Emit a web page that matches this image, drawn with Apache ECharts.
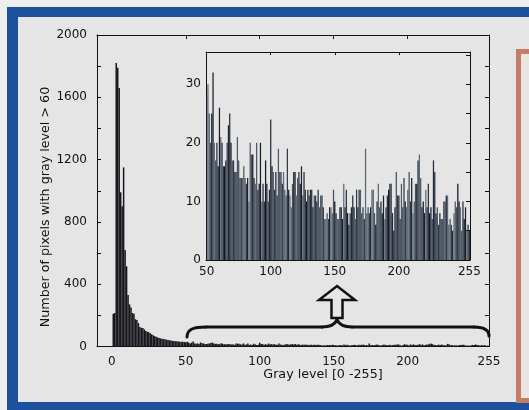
<!DOCTYPE html>
<html lang="en">
<head>
<meta charset="utf-8">
<title>Gray level histogram</title>
<script src="https://cdn.jsdelivr.net/npm/echarts@6.0.0/dist/echarts.min.js"></script>
<style>
    html, body { margin: 0; padding: 0; background: #eceeed; }
    #wrap { position: relative; width: 529px; height: 410px; overflow: hidden; }
    .blue { position: absolute; left: 7px; top: 7px; width: 530px; height: 410px; background: #1f4f9f; }
    .panel { position: absolute; left: 18px; top: 17px; width: 520px; height: 385px; background: #e4e5e4; }
    .side { position: absolute; left: 516px; top: 49px; width: 30px; height: 344px; border: 5px solid #c77a66; background: #e8e5e3; }
    #chart { position: absolute; left: 0; top: 0; width: 529px; height: 410px; }
</style>
</head>
<body>
<div id="wrap">
    <div class="blue"></div>
    <div class="panel"></div>
    <div class="side"></div>
    <div id="chart"></div>
</div>
<script type="text/javascript">
    // counts for gray levels 0..49 (main peak)
    var lowCounts = [0, 210, 215, 1820, 1790, 1660, 990, 900, 1150, 620,
        515, 330, 270, 250, 215, 210, 175, 170, 150, 125,
        120, 118, 110, 100, 95, 92, 85, 78, 72, 66,
        62, 58, 55, 52, 50, 48, 46, 44, 42, 40,
        38, 36, 35, 34, 33, 32, 31, 30, 30, 29];

    // counts for gray levels 50..255 (shown in the inset)
    var tailCounts = [28, 30, 25, 20, 25, 32, 20, 17, 20, 16,
        26, 21, 20, 16, 16, 17, 20, 23, 25, 20,
        17, 17, 15, 15, 21, 17, 14, 14, 14, 16,
        14, 13, 14, 10, 20, 18, 18, 14, 13, 20,
        12, 13, 20, 10, 13, 10, 17, 13, 10, 12,
        24, 16, 15, 12, 15, 11, 19, 15, 15, 13,
        15, 12, 11, 19, 12, 11, 9, 13, 15, 15,
        11, 14, 15, 13, 16, 11, 15, 12, 10, 12,
        11, 12, 12, 9, 11, 11, 10, 12, 9, 11,
        11, 9, 7, 7, 8, 7, 9, 9, 8, 12,
        10, 8, 7, 7, 9, 9, 7, 13, 9, 12,
        8, 6, 8, 9, 11, 9, 7, 12, 9, 12,
        12, 8, 9, 7, 19, 8, 9, 8, 9, 12,
        12, 8, 6, 10, 13, 9, 10, 8, 11, 7,
        9, 11, 12, 13, 13, 8, 5, 9, 15, 11,
        11, 7, 13, 9, 14, 10, 9, 12, 15, 10,
        14, 8, 10, 13, 13, 17, 18, 14, 9, 10,
        8, 12, 9, 13, 8, 9, 7, 17, 15, 8,
        9, 6, 8, 7, 7, 10, 10, 11, 11, 6,
        7, 6, 5, 8, 10, 9, 13, 10, 9, 5,
        10, 7, 9, 5, 6, 5];

    var mainXTicks = [0, 50, 100, 150, 200, 255];
    var mainYLabels = [0, 400, 800, 1200, 1600, 2000];
    var insetXTicks = [50, 100, 150, 200, 255];
    var insetYLabels = [0, 10, 20, 30];
    var insetYTicks = [0, 5, 10, 15, 20, 25, 30, 35];

    var shades = ['#1a1f2e', '#44525f', '#262e3d', '#5b6a75', '#313c4a', '#141824', '#4c5a66', '#20283a'];

    var mainData = lowCounts.map(function (v, i) { return [i, v]; })
        .concat(tailCounts.map(function (v, i) { return [50 + i, v]; }));
    var insetData = tailCounts.map(function (v, i) { return [50 + i, v]; });

    var font = 'DejaVu Sans';
    var ink = '#111111';

    function frameAxis(extra) {
        var base = {
            axisLine: {show: true, onZero: false, lineStyle: {color: ink, width: 1}},
            axisTick: {show: true, inside: true, length: 4, lineStyle: {color: ink}},
            axisLabel: {show: false},
            splitLine: {show: false}
        };
        for (var k in extra) base[k] = extra[k];
        return base;
    }
    function plain(v) { return String(v); }

    var braceStyle = {fill: null, stroke: '#111', lineWidth: 3, lineCap: 'round'};
    function curve(x1, y1, c1x, c1y, c2x, c2y, x2, y2) {
        return {type: 'bezierCurve', z: 100,
            shape: {x1: x1, y1: y1, cpx1: c1x, cpy1: c1y, cpx2: c2x, cpy2: c2y, x2: x2, y2: y2},
            style: braceStyle};
    }
    function seg(x1, y1, x2, y2) {
        return {type: 'line', z: 100, shape: {x1: x1, y1: y1, x2: x2, y2: y2}, style: braceStyle};
    }

    var chart = echarts.init(document.getElementById('chart'));
    chart.setOption({
        backgroundColor: 'transparent',
        animation: false,
        textStyle: {fontFamily: font},
        grid: [
            {left: 97, top: 35, width: 392, height: 311.5},
            {left: 206, top: 52, width: 264, height: 208, show: true, backgroundColor: '#e4e5e4', borderWidth: 0}
        ],
        xAxis: [
            frameAxis({type: 'value', gridIndex: 0, position: 'bottom', min: -10, max: 255,
                axisTick: {show: false},
                axisLabel: {show: true, customValues: mainXTicks, formatter: plain, margin: 9, color: ink, fontSize: 12, fontFamily: font}}),
            frameAxis({type: 'value', gridIndex: 0, position: 'top', min: -10, max: 255,
                axisTick: {show: true, inside: true, length: 4, customValues: [50, 100, 150, 200], lineStyle: {color: ink}}}),
            frameAxis({type: 'value', gridIndex: 1, position: 'bottom', min: 49.5, max: 255.5,
                axisTick: {show: false},
                axisLabel: {show: true, customValues: insetXTicks, formatter: plain, margin: 6, color: ink, fontSize: 12, fontFamily: font}}),
            frameAxis({type: 'value', gridIndex: 1, position: 'top', min: 49.5, max: 255.5,
                axisTick: {show: true, inside: true, length: 3, customValues: [100, 150, 200], lineStyle: {color: ink}}})
        ],
        yAxis: [
            frameAxis({type: 'value', gridIndex: 0, position: 'left', min: 0, max: 2000, interval: 200,
                axisLabel: {show: true, customValues: mainYLabels, formatter: plain, margin: 10, color: ink, fontSize: 12, fontFamily: font}}),
            frameAxis({type: 'value', gridIndex: 0, position: 'right', min: 0, max: 2000, interval: 200}),
            frameAxis({type: 'value', gridIndex: 1, position: 'left', min: 0, max: 35.5,
                axisTick: {show: false},
                axisLabel: {show: true, customValues: insetYLabels, formatter: plain, margin: 5, color: ink, fontSize: 12, fontFamily: font}}),
            frameAxis({type: 'value', gridIndex: 1, position: 'right', min: 0, max: 35.5,
                axisTick: {show: true, inside: true, length: 4, customValues: insetYTicks, lineStyle: {color: ink}}})
        ],
        series: [
            {
                name: 'main',
                type: 'bar',
                xAxisIndex: 0,
                yAxisIndex: 0,
                barWidth: 1.5,
                itemStyle: {color: '#17171d'},
                data: mainData
            },
            {
                name: 'inset',
                type: 'bar',
                xAxisIndex: 2,
                yAxisIndex: 2,
                barWidth: 1.25,
                itemStyle: {
                    color: function (p) {
                        return shades[(p.dataIndex * 3 + (p.dataIndex >> 2)) % shades.length];
                    }
                },
                data: insetData
            }
        ],
        graphic: [
            {
                type: 'text', x: 46, y: 207, rotation: Math.PI / 2, z: 100,
                style: {text: 'Number of pixels with gray level > 60', fill: ink, font: '12.7px "DejaVu Sans"',
                    align: 'center', verticalAlign: 'middle'}
            },
            {
                type: 'text', x: 323, y: 375, z: 100,
                style: {text: 'Gray level [0 -255]', fill: ink, font: '12.7px "DejaVu Sans"',
                    align: 'center', verticalAlign: 'middle'}
            },
            // brace under the zoomed range
            curve(187, 337, 187, 329, 194, 327, 206, 327),
            seg(206, 327, 322, 327),
            curve(322, 327, 331, 327, 335, 324, 337, 320),
            curve(337, 320, 339, 324, 343, 327, 352, 327),
            seg(352, 327, 474, 327),
            curve(474, 327, 484, 327, 489, 330, 489, 336),
            {
                // hollow arrow
                type: 'polygon', z: 100,
                shape: {points: [[337, 286], [355, 300], [342.5, 300], [342.5, 318], [331.5, 318], [331.5, 300], [319, 300]]},
                style: {fill: '#e4e5e4', stroke: '#111', lineWidth: 2.5, lineJoin: 'miter'}
            }
        ]
    });
</script>
</body>
</html>
